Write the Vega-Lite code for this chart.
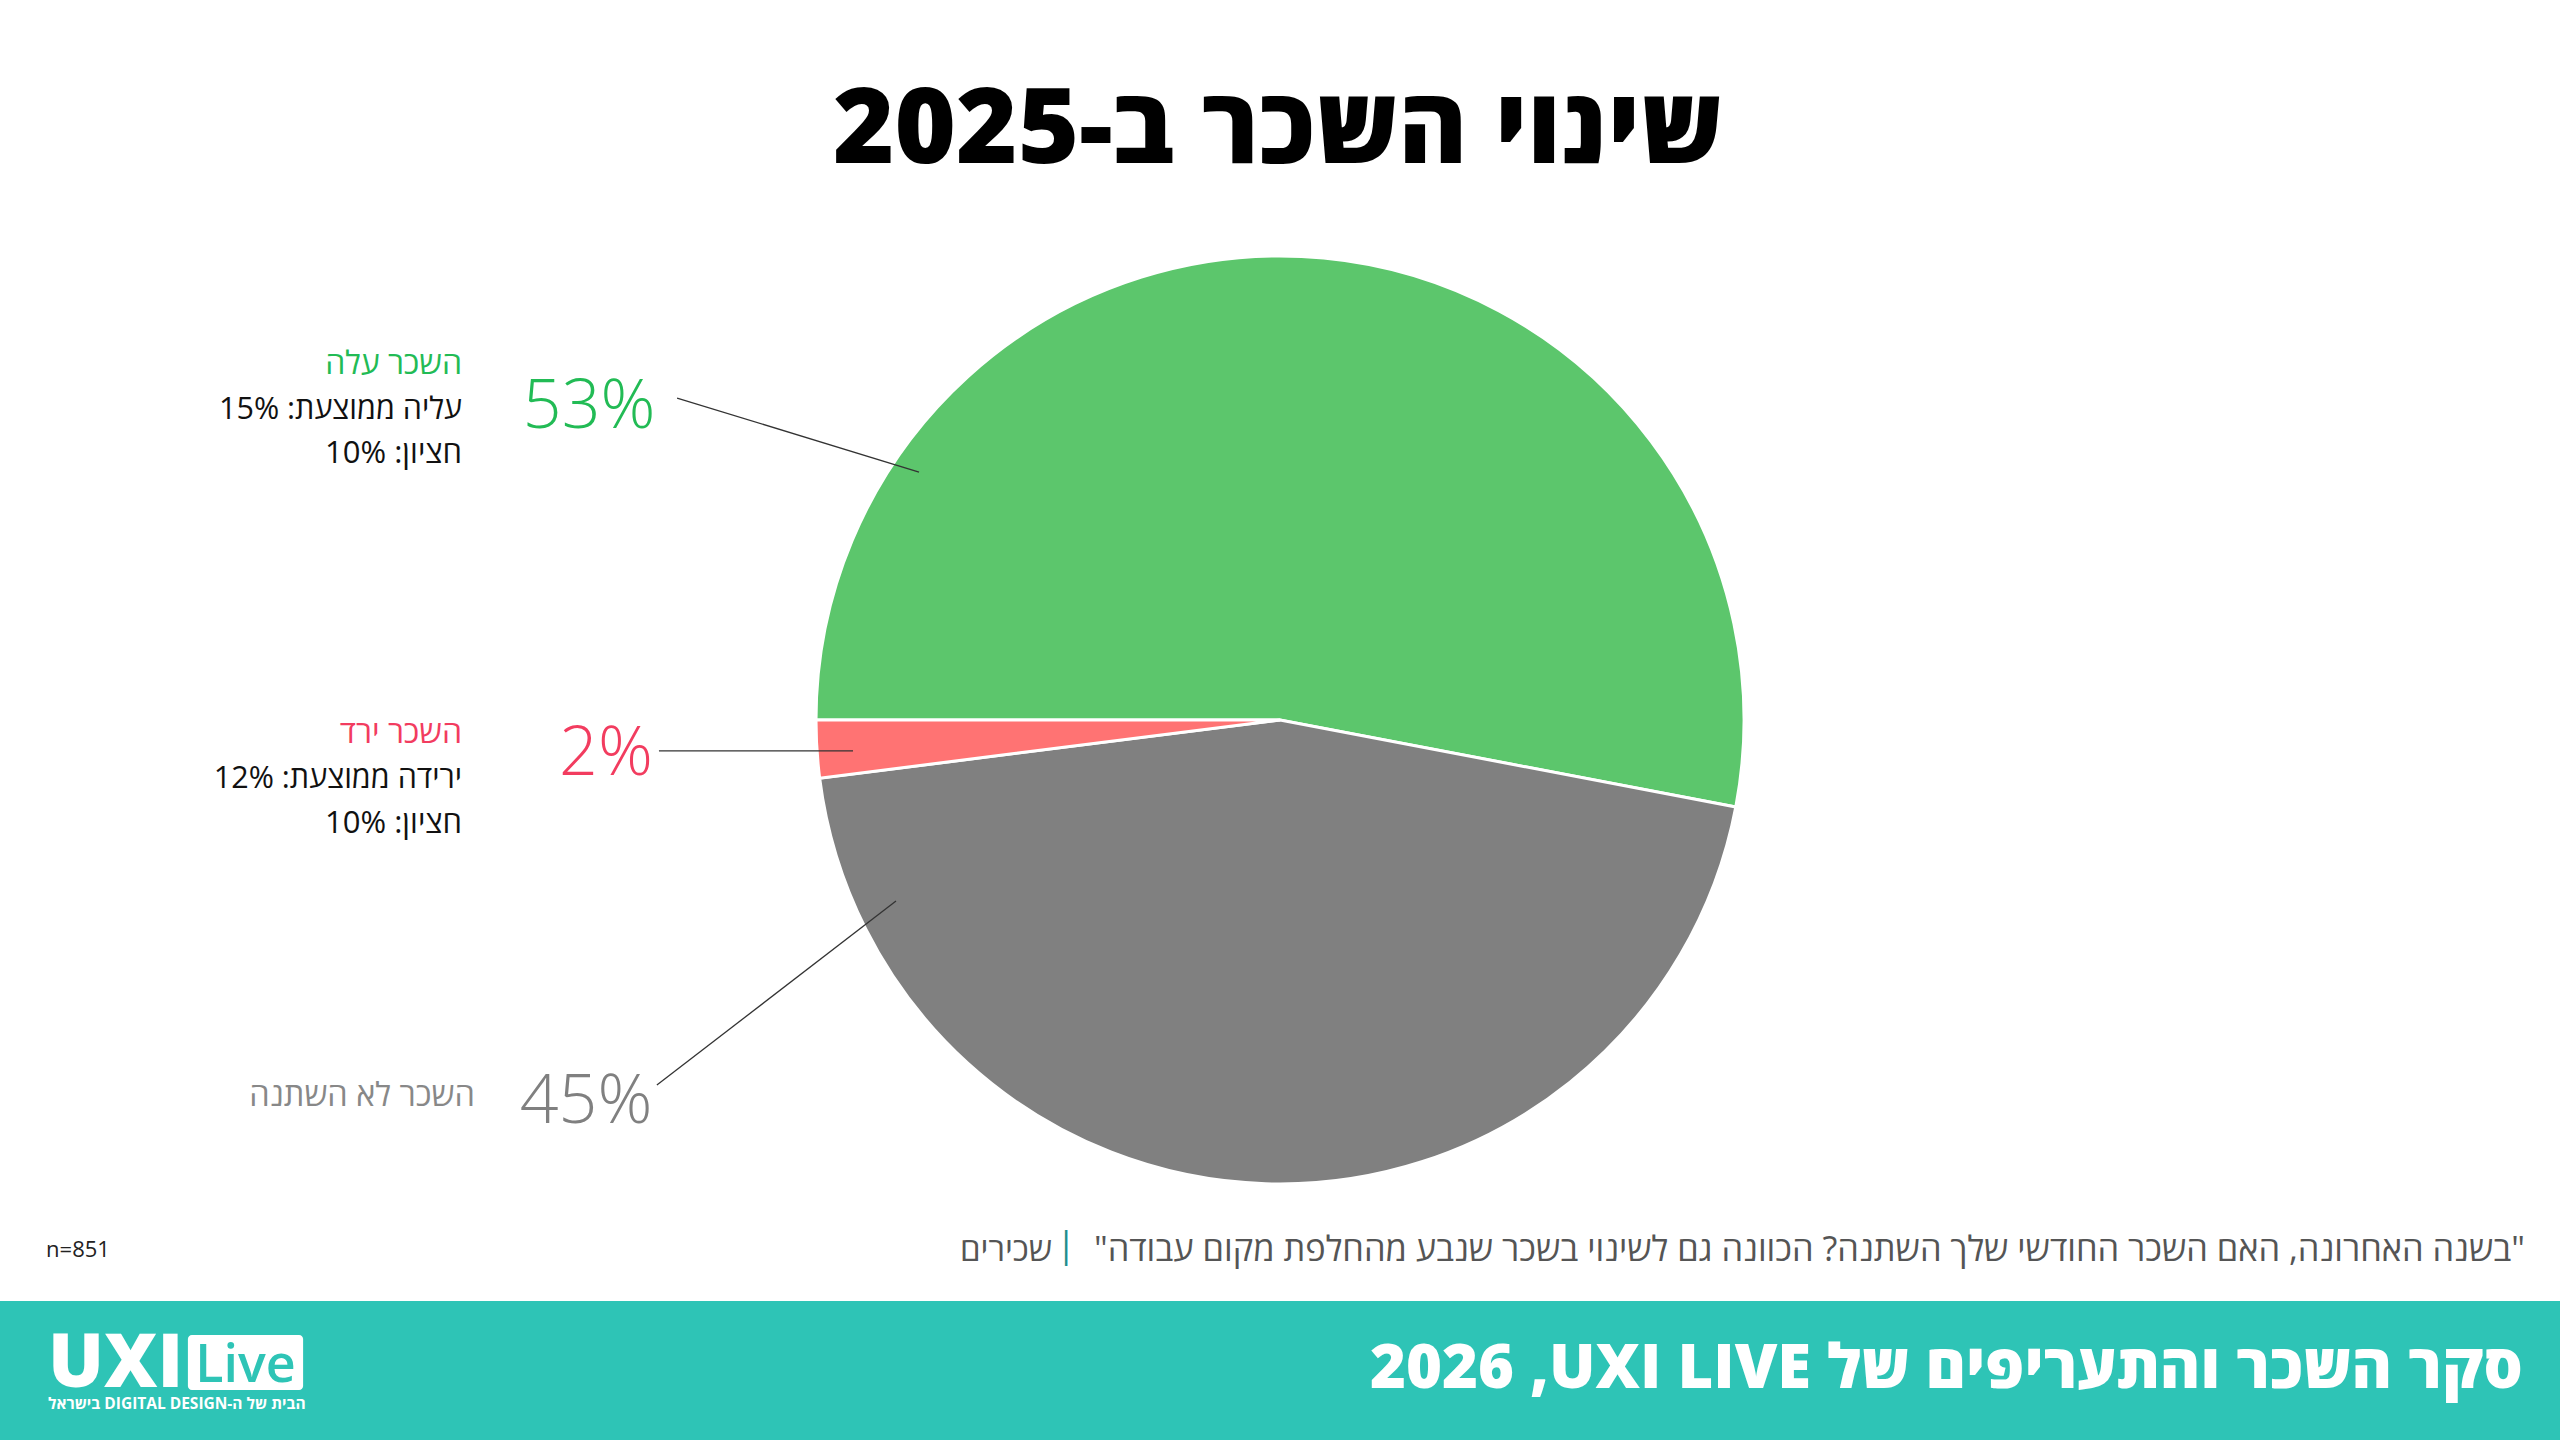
{
  "$schema": "https://vega.github.io/schema/vega-lite/v6.json",
  "width": 2560,
  "height": 1440,
  "padding": 0,
  "autosize": {"type": "fit", "contains": "padding"},
  "background": "#ffffff",
  "config": {"view": {"stroke": null}, "text": {"font": "Open Sans", "baseline": "alphabetic"}},
  "datasets": {
    "slices": [
      {"cat": "השכר עלה", "pct": 53, "ord": 1, "pct_label": "53%", "stat1": "\u202bעליה ממוצעת: 15%\u202c", "stat2": "\u202bחציון: 10%\u202c"},
      {"cat": "השכר לא השתנה", "pct": 45, "ord": 2, "pct_label": "45%", "stat1": "", "stat2": ""},
      {"cat": "השכר ירד", "pct": 2, "ord": 3, "pct_label": "2%", "stat1": "\u202bירידה ממוצעת: 12%\u202c", "stat2": "\u202bחציון: 10%\u202c"}
    ],
    "meta": [
      {"title": "שינוי השכר ב-2025", "question": "\u202b\"בשנה האחרונה, האם השכר החודשי שלך השתנה? הכוונה גם לשינוי בשכר שנבע מהחלפת מקום עבודה\"\u202c", "sep": "|", "segment": "שכירים", "n": "n=851", "footer": "\u202bסקר השכר והתעריפים של UXI LIVE\u200f, 2026\u202c", "brand": "UXI", "brand2": "Live", "tagline": "\u202bהבית של ה-DIGITAL DESIGN בישראל\u202c"}
    ]
  },
  "data": {"name": "slices"},
  "layer": [
    {
      "data": {"name": "meta"},
      "mark": {"type": "rect", "color": "#2ec4b6"},
      "encoding": {
        "x": {"datum": 0, "type": "quantitative", "scale": {"domain": [0, 100], "nice": false}, "axis": null},
        "x2": {"datum": 100},
        "y": {"datum": 90.35, "type": "quantitative", "scale": {"domain": [100, 0], "nice": false}, "axis": null},
        "y2": {"datum": 100}
      }
    },
    {
      "mark": {"type": "arc", "outerRadius": 464, "stroke": "#ffffff", "strokeWidth": 3},
      "encoding": {
        "theta": {"field": "pct", "type": "quantitative", "stack": true, "scale": {"domain": [0, 100], "range": [4.71238898038469, 10.995574287564276]}},
        "color": {"field": "cat", "type": "nominal", "scale": {"domain": ["השכר עלה", "השכר לא השתנה", "השכר ירד"], "range": ["#5cc66c", "#808080", "#ff7373"]}, "legend": null},
        "order": {"field": "ord", "type": "quantitative"}
      }
    },
    {
      "transform": [{"filter": "datum.ord == 1"}],
      "mark": {"type": "rule", "color": "#333333", "strokeWidth": 1.3},
      "encoding": {
        "x": {"datum": 26.45, "type": "quantitative", "scale": {"domain": [0, 100], "nice": false}, "axis": null},
        "x2": {"datum": 35.9},
        "y": {"datum": 27.64, "type": "quantitative", "scale": {"domain": [100, 0], "nice": false}, "axis": null},
        "y2": {"datum": 32.78}
      }
    },
    {
      "transform": [{"filter": "datum.ord == 3"}],
      "mark": {"type": "rule", "color": "#333333", "strokeWidth": 1.3},
      "encoding": {
        "x": {"datum": 25.74, "type": "quantitative", "scale": {"domain": [0, 100], "nice": false}, "axis": null},
        "x2": {"datum": 33.32},
        "y": {"datum": 52.15, "type": "quantitative", "scale": {"domain": [100, 0], "nice": false}, "axis": null},
        "y2": {"datum": 52.15}
      }
    },
    {
      "transform": [{"filter": "datum.ord == 2"}],
      "mark": {"type": "rule", "color": "#333333", "strokeWidth": 1.3},
      "encoding": {
        "x": {"datum": 25.66, "type": "quantitative", "scale": {"domain": [0, 100], "nice": false}, "axis": null},
        "x2": {"datum": 35.0},
        "y": {"datum": 75.35, "type": "quantitative", "scale": {"domain": [100, 0], "nice": false}, "axis": null},
        "y2": {"datum": 62.57}
      }
    },
    {
      "transform": [{"filter": "datum.ord == 1"}],
      "mark": {"type": "text", "align": "right", "fontSize": 68, "fontWeight": 300, "color": "#22bb55"},
      "encoding": {
        "x": {"datum": 25.6, "type": "quantitative", "scale": {"domain": [0, 100], "nice": false}, "axis": null},
        "y": {"datum": 29.72, "type": "quantitative", "scale": {"domain": [100, 0], "nice": false}, "axis": null},
        "text": {"field": "pct_label"}
      }
    },
    {
      "transform": [{"filter": "datum.ord == 3"}],
      "mark": {"type": "text", "align": "right", "fontSize": 68, "fontWeight": 300, "color": "#f23c5f"},
      "encoding": {
        "x": {"datum": 25.5, "type": "quantitative", "scale": {"domain": [0, 100], "nice": false}, "axis": null},
        "y": {"datum": 53.82, "type": "quantitative", "scale": {"domain": [100, 0], "nice": false}, "axis": null},
        "text": {"field": "pct_label"}
      }
    },
    {
      "transform": [{"filter": "datum.ord == 2"}],
      "mark": {"type": "text", "align": "right", "fontSize": 68, "fontWeight": 300, "color": "#808080"},
      "encoding": {
        "x": {"datum": 25.48, "type": "quantitative", "scale": {"domain": [0, 100], "nice": false}, "axis": null},
        "y": {"datum": 77.99, "type": "quantitative", "scale": {"domain": [100, 0], "nice": false}, "axis": null},
        "text": {"field": "pct_label"}
      }
    },
    {
      "transform": [{"filter": "datum.ord == 1"}],
      "mark": {"type": "text", "align": "right", "fontSize": 32, "color": "#22bb55"},
      "encoding": {
        "x": {"datum": 18.05, "type": "quantitative", "scale": {"domain": [0, 100], "nice": false}, "axis": null},
        "y": {"datum": 25.97, "type": "quantitative", "scale": {"domain": [100, 0], "nice": false}, "axis": null},
        "text": {"field": "cat"}
      }
    },
    {
      "transform": [{"filter": "datum.ord == 1"}],
      "mark": {"type": "text", "align": "right", "fontSize": 30.5, "color": "#111111"},
      "encoding": {
        "x": {"datum": 18.05, "type": "quantitative", "scale": {"domain": [0, 100], "nice": false}, "axis": null},
        "y": {"datum": 29.1, "type": "quantitative", "scale": {"domain": [100, 0], "nice": false}, "axis": null},
        "text": {"field": "stat1"}
      }
    },
    {
      "transform": [{"filter": "datum.ord == 1"}],
      "mark": {"type": "text", "align": "right", "fontSize": 31, "color": "#111111"},
      "encoding": {
        "x": {"datum": 18.05, "type": "quantitative", "scale": {"domain": [0, 100], "nice": false}, "axis": null},
        "y": {"datum": 32.15, "type": "quantitative", "scale": {"domain": [100, 0], "nice": false}, "axis": null},
        "text": {"field": "stat2"}
      }
    },
    {
      "transform": [{"filter": "datum.ord == 3"}],
      "mark": {"type": "text", "align": "right", "fontSize": 32, "color": "#f23c5f"},
      "encoding": {
        "x": {"datum": 18.05, "type": "quantitative", "scale": {"domain": [0, 100], "nice": false}, "axis": null},
        "y": {"datum": 51.6, "type": "quantitative", "scale": {"domain": [100, 0], "nice": false}, "axis": null},
        "text": {"field": "cat"}
      }
    },
    {
      "transform": [{"filter": "datum.ord == 3"}],
      "mark": {"type": "text", "align": "right", "fontSize": 30.5, "color": "#111111"},
      "encoding": {
        "x": {"datum": 18.05, "type": "quantitative", "scale": {"domain": [0, 100], "nice": false}, "axis": null},
        "y": {"datum": 54.72, "type": "quantitative", "scale": {"domain": [100, 0], "nice": false}, "axis": null},
        "text": {"field": "stat1"}
      }
    },
    {
      "transform": [{"filter": "datum.ord == 3"}],
      "mark": {"type": "text", "align": "right", "fontSize": 31, "color": "#111111"},
      "encoding": {
        "x": {"datum": 18.05, "type": "quantitative", "scale": {"domain": [0, 100], "nice": false}, "axis": null},
        "y": {"datum": 57.85, "type": "quantitative", "scale": {"domain": [100, 0], "nice": false}, "axis": null},
        "text": {"field": "stat2"}
      }
    },
    {
      "transform": [{"filter": "datum.ord == 2"}],
      "mark": {"type": "text", "align": "right", "fontSize": 32.5, "color": "#888888"},
      "encoding": {
        "x": {"datum": 18.55, "type": "quantitative", "scale": {"domain": [0, 100], "nice": false}, "axis": null},
        "y": {"datum": 76.81, "type": "quantitative", "scale": {"domain": [100, 0], "nice": false}, "axis": null},
        "text": {"field": "cat"}
      }
    },
    {
      "data": {"name": "meta"},
      "mark": {"type": "text", "align": "center", "fontSize": 105, "fontWeight": 800, "color": "#000000"},
      "encoding": {
        "x": {"datum": 49.92, "type": "quantitative", "scale": {"domain": [0, 100], "nice": false}, "axis": null},
        "y": {"datum": 11.32, "type": "quantitative", "scale": {"domain": [100, 0], "nice": false}, "axis": null},
        "text": {"field": "title"}
      }
    },
    {
      "data": {"name": "meta"},
      "mark": {"type": "text", "align": "right", "fontSize": 34.4, "color": "#555555"},
      "encoding": {
        "x": {"datum": 98.63, "type": "quantitative", "scale": {"domain": [0, 100], "nice": false}, "axis": null},
        "y": {"datum": 87.57, "type": "quantitative", "scale": {"domain": [100, 0], "nice": false}, "axis": null},
        "text": {"field": "question"}
      }
    },
    {
      "data": {"name": "meta"},
      "mark": {"type": "text", "align": "center", "fontSize": 36, "color": "#1f8f8f"},
      "encoding": {
        "x": {"datum": 41.65, "type": "quantitative", "scale": {"domain": [0, 100], "nice": false}, "axis": null},
        "y": {"datum": 87.3, "type": "quantitative", "scale": {"domain": [100, 0], "nice": false}, "axis": null},
        "text": {"field": "sep"}
      }
    },
    {
      "data": {"name": "meta"},
      "mark": {"type": "text", "align": "right", "fontSize": 33, "color": "#555555"},
      "encoding": {
        "x": {"datum": 41.1, "type": "quantitative", "scale": {"domain": [0, 100], "nice": false}, "axis": null},
        "y": {"datum": 87.57, "type": "quantitative", "scale": {"domain": [100, 0], "nice": false}, "axis": null},
        "text": {"field": "segment"}
      }
    },
    {
      "data": {"name": "meta"},
      "mark": {"type": "text", "align": "left", "fontSize": 22, "color": "#222222"},
      "encoding": {
        "x": {"datum": 1.8, "type": "quantitative", "scale": {"domain": [0, 100], "nice": false}, "axis": null},
        "y": {"datum": 87.3, "type": "quantitative", "scale": {"domain": [100, 0], "nice": false}, "axis": null},
        "text": {"field": "n"}
      }
    },
    {
      "data": {"name": "meta"},
      "mark": {"type": "text", "align": "right", "fontSize": 61.5, "fontWeight": 800, "color": "#ffffff"},
      "encoding": {
        "x": {"datum": 98.55, "type": "quantitative", "scale": {"domain": [0, 100], "nice": false}, "axis": null},
        "y": {"datum": 96.39, "type": "quantitative", "scale": {"domain": [100, 0], "nice": false}, "axis": null},
        "text": {"field": "footer"}
      }
    },
    {
      "data": {"name": "meta"},
      "mark": {"type": "text", "align": "left", "fontSize": 74, "fontWeight": 800, "color": "#ffffff"},
      "encoding": {
        "x": {"datum": 1.875, "type": "quantitative", "scale": {"domain": [0, 100], "nice": false}, "axis": null},
        "y": {"datum": 96.3, "type": "quantitative", "scale": {"domain": [100, 0], "nice": false}, "axis": null},
        "text": {"field": "brand"}
      }
    },
    {
      "data": {"name": "meta"},
      "mark": {"type": "rect", "color": "#ffffff", "cornerRadius": 4},
      "encoding": {
        "x": {"datum": 7.34, "type": "quantitative", "scale": {"domain": [0, 100], "nice": false}, "axis": null},
        "x2": {"datum": 11.84},
        "y": {"datum": 92.71, "type": "quantitative", "scale": {"domain": [100, 0], "nice": false}, "axis": null},
        "y2": {"datum": 96.53}
      }
    },
    {
      "data": {"name": "meta"},
      "mark": {"type": "text", "align": "center", "fontSize": 52, "fontWeight": 600, "color": "#2ec4b6"},
      "encoding": {
        "x": {"datum": 9.59, "type": "quantitative", "scale": {"domain": [0, 100], "nice": false}, "axis": null},
        "y": {"datum": 96.0, "type": "quantitative", "scale": {"domain": [100, 0], "nice": false}, "axis": null},
        "text": {"field": "brand2"}
      }
    },
    {
      "data": {"name": "meta"},
      "mark": {"type": "text", "align": "left", "fontSize": 15.5, "fontWeight": 700, "color": "#ffffff"},
      "encoding": {
        "x": {"datum": 1.875, "type": "quantitative", "scale": {"domain": [0, 100], "nice": false}, "axis": null},
        "y": {"datum": 97.85, "type": "quantitative", "scale": {"domain": [100, 0], "nice": false}, "axis": null},
        "text": {"field": "tagline"}
      }
    }
  ]
}
